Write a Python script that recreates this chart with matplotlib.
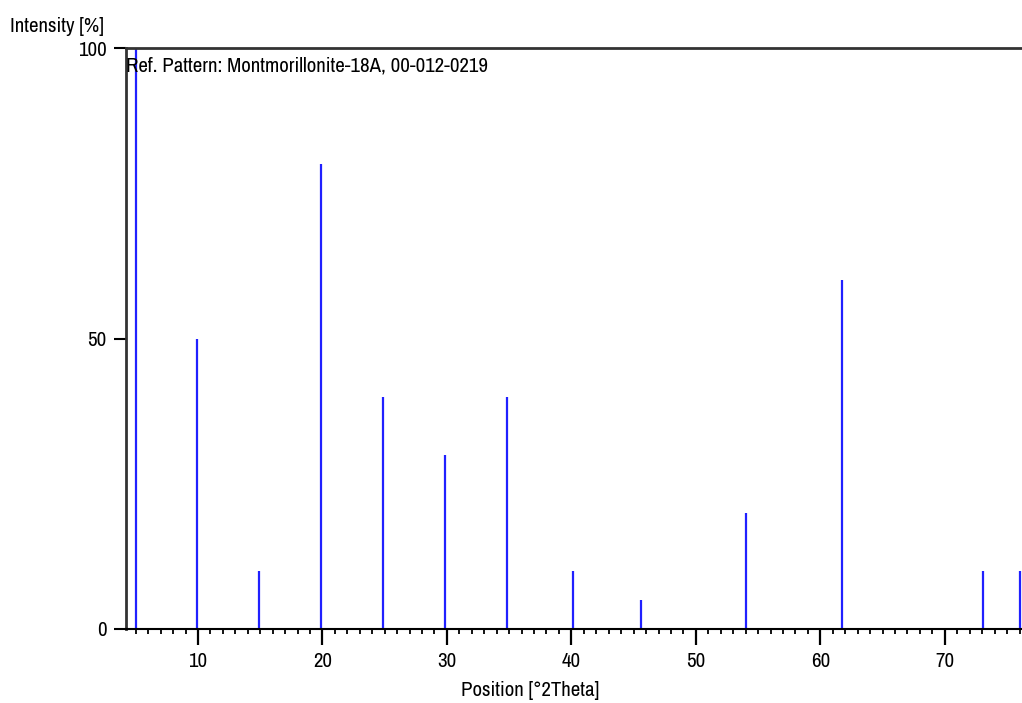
import matplotlib
matplotlib.use("Agg")
import matplotlib.pyplot as plt
from matplotlib.ticker import MultipleLocator, FixedLocator

plt.rcParams['font.family'] = ['Archivo Narrow', 'Liberation Sans', 'DejaVu Sans']

positions = [5.0, 9.9, 14.9, 19.9, 24.9, 29.85, 34.8, 40.1, 45.6, 54.0, 61.7, 73.1, 76.05]
intensities = [100, 50, 10, 80, 40, 30, 40, 10, 5, 20, 60, 10, 10]
x_ticks = [10, 20, 30, 40, 50, 60, 70]
y_ticks = [0, 50, 100]
ref_label = "Ref. Pattern: Montmorillonite-18A, 00-012-0219"

fig = plt.figure(figsize=(10.22, 7.03), dpi=100)
ax = fig.add_axes([126/1022, 1-629/703, 1-126/1022, (629-48)/703])

ax.vlines(positions, 0, intensities, colors='#2020ff', linewidth=1.6)

ax.set_xlim(4.22, 76.2)
ax.set_ylim(0, 100)

ax.spines['right'].set_visible(False)
ax.spines['top'].set_linewidth(2.0)
ax.spines['top'].set_color('#333333')
ax.spines['left'].set_linewidth(2.0)
ax.spines['left'].set_color('#333333')
ax.spines['bottom'].set_linewidth(1.5)
ax.spines['bottom'].set_color('black')

ax.xaxis.set_major_locator(FixedLocator(x_ticks))
ax.xaxis.set_minor_locator(MultipleLocator(1))
ax.yaxis.set_major_locator(FixedLocator(y_ticks))

ax.tick_params(axis='x', which='major', direction='out', length=11.5, width=1.6, pad=5, labelsize=15)
ax.tick_params(axis='x', which='minor', direction='out', length=3.8, width=1.3)
ax.tick_params(axis='y', which='major', direction='out', length=9, width=1.5, pad=5, labelsize=15)

ax.text(0.0, 0.985, ref_label, transform=ax.transAxes, ha='left', va='top', fontsize=15)

fig.text(10/1022, 1-27/703, "Intensity [%]", ha='left', va='center', fontsize=15)
fig.text(530/1022, 1-691/703, "Position [°2Theta]", ha='center', va='center', fontsize=15)

fig.savefig("out.png", dpi=100)
